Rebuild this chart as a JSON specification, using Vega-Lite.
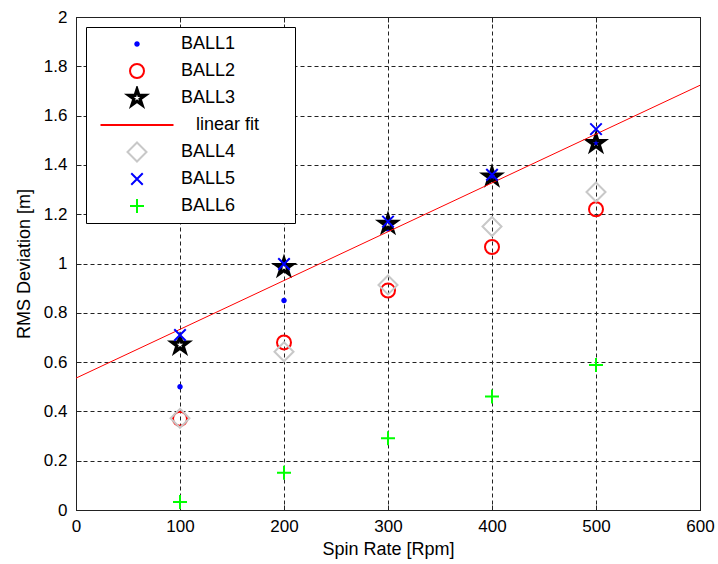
{
  "$schema": "https://vega.github.io/schema/vega-lite/v6.json",
  "autosize": {"type": "none"},
  "padding": {"left": 76, "top": 17, "right": 18, "bottom": 54},
  "width": 624,
  "height": 493,
  "background": "#ffffff",
  "data": {
    "values": [
      {"series": "BALL1", "rpm": 100, "dev": 0.50},
      {"series": "BALL1", "rpm": 200, "dev": 0.85},
      {"series": "BALL1", "rpm": 300, "dev": 1.14},
      {"series": "BALL1", "rpm": 400, "dev": 1.35},
      {"series": "BALL1", "rpm": 500, "dev": 1.49},
      {"series": "BALL2", "rpm": 100, "dev": 0.37},
      {"series": "BALL2", "rpm": 200, "dev": 0.68},
      {"series": "BALL2", "rpm": 300, "dev": 0.89},
      {"series": "BALL2", "rpm": 400, "dev": 1.067},
      {"series": "BALL2", "rpm": 500, "dev": 1.22},
      {"series": "BALL3", "rpm": 100, "dev": 0.67},
      {"series": "BALL3", "rpm": 200, "dev": 0.985},
      {"series": "BALL3", "rpm": 300, "dev": 1.16},
      {"series": "BALL3", "rpm": 400, "dev": 1.352},
      {"series": "BALL3", "rpm": 500, "dev": 1.488},
      {"series": "BALL4", "rpm": 100, "dev": 0.372},
      {"series": "BALL4", "rpm": 200, "dev": 0.642},
      {"series": "BALL4", "rpm": 300, "dev": 0.913},
      {"series": "BALL4", "rpm": 400, "dev": 1.15},
      {"series": "BALL4", "rpm": 500, "dev": 1.29},
      {"series": "BALL5", "rpm": 100, "dev": 0.71},
      {"series": "BALL5", "rpm": 200, "dev": 0.998},
      {"series": "BALL5", "rpm": 300, "dev": 1.17},
      {"series": "BALL5", "rpm": 400, "dev": 1.36},
      {"series": "BALL5", "rpm": 500, "dev": 1.545},
      {"series": "BALL6", "rpm": 100, "dev": 0.032},
      {"series": "BALL6", "rpm": 200, "dev": 0.151},
      {"series": "BALL6", "rpm": 300, "dev": 0.291},
      {"series": "BALL6", "rpm": 400, "dev": 0.46},
      {"series": "BALL6", "rpm": 500, "dev": 0.588}
    ]
  },
  "resolve": {"axis": {"x": "independent", "y": "independent"}},
  "layer": [
    {
      "transform": [{"filter": "indexof(['BALL1','BALL2','BALL3'], datum.series) >= 0"}],
      "mark": {"type": "point", "filled": false, "size": 100, "strokeWidth": 2, "opacity": 1},
      "encoding": {
        "x": {
          "field": "rpm", "type": "quantitative",
          "scale": {"domain": [0, 600], "nice": false, "zero": false},
          "axis": {"orient": "bottom", "values": [0, 100, 200, 300, 400, 500, 600], "title": "Spin Rate [Rpm]", "grid": true, "labelPadding": 13, "titlePadding": 6, "labelFlush": false}
        },
        "y": {
          "field": "dev", "type": "quantitative",
          "scale": {"domain": [0, 2], "nice": false, "zero": false},
          "axis": {"orient": "left", "values": [0, 0.2, 0.4, 0.6, 0.8, 1, 1.2, 1.4, 1.6, 1.8, 2], "format": "~g", "title": "RMS Deviation [m]", "grid": true, "labelPadding": 14, "titlePadding": 10}
        },
        "color": {
          "field": "series", "type": "nominal",
          "scale": {
            "domain": ["BALL1", "BALL2", "BALL3", "\u200b\u00a0\u00a0\u00a0linear fit\u00a0\u00a0\u00a0\u00a0\u00a0\u00a0\u200b", "BALL4", "BALL5", "BALL6"],
            "range": ["#0000ff", "#ff0000", "#000000", "#ff0000", "#c8c8c8", "#0000ff", "#00ff00"]
          },
          "legend": {"title": null, "orient": "none", "legendX": 10, "legendY": 10}
        },
        "shape": {
          "field": "series", "type": "nominal",
          "scale": {
            "domain": ["BALL1", "BALL2", "BALL3", "\u200b\u00a0\u00a0\u00a0linear fit\u00a0\u00a0\u00a0\u00a0\u00a0\u00a0\u200b", "BALL4", "BALL5", "BALL6"],
            "range": [
              "M0.35,0A0.35,0.35,0,1,1,-0.35,0A0.35,0.35,0,1,1,0.35,0ZM-0.2,0L0.2,0",
              "M1.4,0A1.4,1.4,0,1,1,-1.4,0A1.4,1.4,0,1,1,1.4,0Z",
              "M0,-2.1L0.471,-0.649L1.997,-0.649L0.763,0.248L1.234,1.699L0,0.802L-1.234,1.699L-0.763,0.248L-1.997,-0.649L-0.471,-0.649ZM0,-1.7L0.381,-0.525L1.617,-0.525L0.618,0.2L0.999,1.375L0,0.649L-0.999,1.375L-0.618,0.2L-1.617,-0.525L-0.381,-0.525ZM0,-1.3L0.292,-0.402L1.236,-0.402L0.472,0.154L0.764,1.052L0,0.497L-0.764,1.052L-0.472,0.154L-1.236,-0.402L-0.292,-0.402Z",
              "M-7.3,0L7.3,0",
              "M0,-1.9L1.9,0L0,1.9L-1.9,0Z",
              "M-1.15,-1.15L1.15,1.15M-1.15,1.15L1.15,-1.15",
              "M-1.4,0L1.4,0M0,-1.4L0,1.4"
            ]
          },
          "legend": {"title": null, "orient": "none", "legendX": 10, "legendY": 10}
        }
      }
    },
    {
      "data": {"values": [{"rpm": 0, "dev": 0.535}, {"rpm": 600, "dev": 1.723}]},
      "mark": {"type": "line", "color": "#ff0000", "strokeWidth": 1},
      "encoding": {
        "x": {
          "field": "rpm", "type": "quantitative",
          "scale": {"domain": [0, 600], "nice": false, "zero": false},
          "axis": {"orient": "top", "values": [0, 100, 200, 300, 400, 500, 600], "labels": false, "grid": false, "domain": false, "title": null}
        },
        "y": {
          "field": "dev", "type": "quantitative",
          "scale": {"domain": [0, 2], "nice": false, "zero": false},
          "axis": {"orient": "right", "values": [0, 0.2, 0.4, 0.6, 0.8, 1, 1.2, 1.4, 1.6, 1.8, 2], "labels": false, "grid": false, "domain": false, "title": null}
        }
      }
    },
    {
      "transform": [{"filter": "indexof(['BALL4','BALL5','BALL6'], datum.series) >= 0"}],
      "mark": {"type": "point", "filled": false, "size": 100, "strokeWidth": 2, "opacity": 1},
      "encoding": {
        "x": {"field": "rpm", "type": "quantitative", "scale": {"domain": [0, 600], "nice": false, "zero": false}, "axis": null},
        "y": {"field": "dev", "type": "quantitative", "scale": {"domain": [0, 2], "nice": false, "zero": false}, "axis": null},
        "color": {"field": "series", "type": "nominal"},
        "shape": {"field": "series", "type": "nominal"}
      }
    }
  ],
  "config": {
    "font": "Liberation Sans",
    "view": {"stroke": "#222222", "strokeWidth": 1},
    "axis": {
      "labelFont": "Liberation Sans",
      "titleFont": "Liberation Sans",
      "labelFontSize": 17,
      "titleFontSize": 18,
      "titleFontWeight": "normal",
      "labelColor": "#000000",
      "titleColor": "#000000",
      "domainColor": "#222222",
      "tickColor": "#222222",
      "gridColor": "#222222",
      "gridDash": [4, 3],
      "gridOpacity": 1,
      "tickSize": -5
    },
    "legend": {
      "padding": 5,
      "strokeColor": "#000000",
      "fillColor": "#ffffff",
      "cornerRadius": 0,
      "symbolSize": 100,
      "symbolStrokeWidth": 2,
      "symbolOpacity": 1,
      "symbolOffset": 37,
      "labelOffset": 35,
      "clipHeight": 24,
      "rowPadding": 3,
      "labelFont": "Liberation Sans",
      "labelFontSize": 18,
      "labelColor": "#000000",
      "labelLimit": 400
    }
  }
}
